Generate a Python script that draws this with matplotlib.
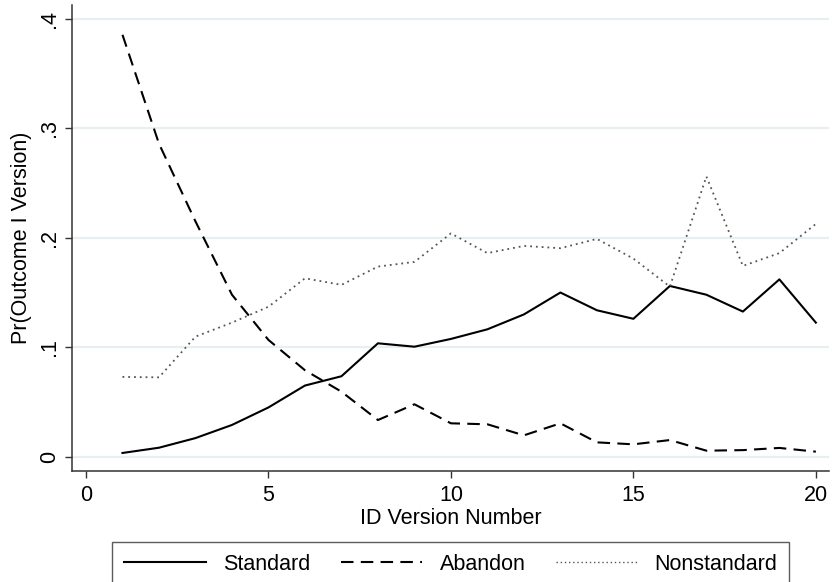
import matplotlib.pyplot as plt
from matplotlib.lines import Line2D

plt.rcParams['font.family'] = ['Liberation Sans', 'DejaVu Sans']

# ID version numbers
versions = list(range(1, 21))

# predicted probabilities
standard = [0.0034, 0.0082, 0.017, 0.029, 0.045, 0.065, 0.0735, 0.1036, 0.1005, 0.1076,
            0.1164, 0.130, 0.150, 0.1338, 0.126, 0.156, 0.148, 0.1326, 0.162, 0.1225]
abandon = [0.3855, 0.286, 0.215, 0.148, 0.1067, 0.079, 0.0594, 0.0335, 0.0479, 0.0305,
           0.0296, 0.0195, 0.0305, 0.0131, 0.0113, 0.0152, 0.0055, 0.006, 0.008, 0.0046]
nonstandard = [0.0729, 0.0725, 0.1097, 0.1225, 0.137, 0.163, 0.157, 0.1737, 0.178, 0.204,
               0.186, 0.1926, 0.1905, 0.199, 0.181, 0.1554, 0.256, 0.1743, 0.186, 0.2127]

y_ticks = [0, 0.1, 0.2, 0.3, 0.4]
y_tick_labels = ['0', '.1', '.2', '.3', '.4']
x_ticks = [0, 5, 10, 15, 20]

FS = 15.5

fig = plt.figure(figsize=(8.32, 5.82), dpi=100)
ax = fig.add_axes([72.3 / 832, 111.3 / 582, (829 - 72.3) / 832, (471 - 5) / 582])

ax.set_xlim(-0.375, 20.36)
ax.set_ylim(-0.0128, 0.413)

# gridlines (horizontal only, Stata style)
for yv in y_ticks:
    ax.axhline(yv, color='#e8eff3', linewidth=1.6, zorder=0)

ax.plot(versions, standard, color='black', linewidth=1.5, label='Standard')
ax.plot(versions, abandon, color='black', linewidth=1.5, dashes=(6, 3.5), label='Abandon')
ax.plot(versions, nonstandard, color='#555555', linewidth=1.3, linestyle=(0, (1, 2.2)),
        label='Nonstandard')

for side in ['top', 'right']:
    ax.spines[side].set_visible(False)
for side in ['left', 'bottom']:
    ax.spines[side].set_linewidth(1.1)
    ax.spines[side].set_color('#333333')

ax.set_yticks(y_ticks)
ax.set_yticklabels(y_tick_labels, rotation=90, va='center', fontsize=FS)
ax.set_xticks(x_ticks)
ax.set_xticklabels([str(v) for v in x_ticks], fontsize=FS)
ax.tick_params(axis='both', length=5, width=1.0, color='#333333', pad=5)
ax.tick_params(axis='y', pad=4)

ax.set_xlabel('ID Version Number', fontsize=FS, labelpad=2)
ax.set_ylabel('Pr(Outcome I Version)', fontsize=FS, labelpad=5)

handles = [
    Line2D([], [], color='black', linewidth=1.5),
    Line2D([], [], color='black', linewidth=1.5, dashes=(6, 3.5)),
    Line2D([], [], color='#555555', linewidth=1.0, linestyle=(0, (1, 2))),
]
leg = fig.legend(handles, ['Standard', 'Abandon', 'Nonstandard'], ncol=3,
                 loc='upper center', bbox_to_anchor=(450.9 / 832, 40.3 / 582),
                 fontsize=FS, frameon=True, fancybox=False, edgecolor='#333333',
                 handlelength=3.8, handletextpad=0.8, columnspacing=1.4,
                 borderpad=0.55, borderaxespad=0)
leg.get_frame().set_linewidth(1.0)

fig.savefig('out.png', dpi=100)
